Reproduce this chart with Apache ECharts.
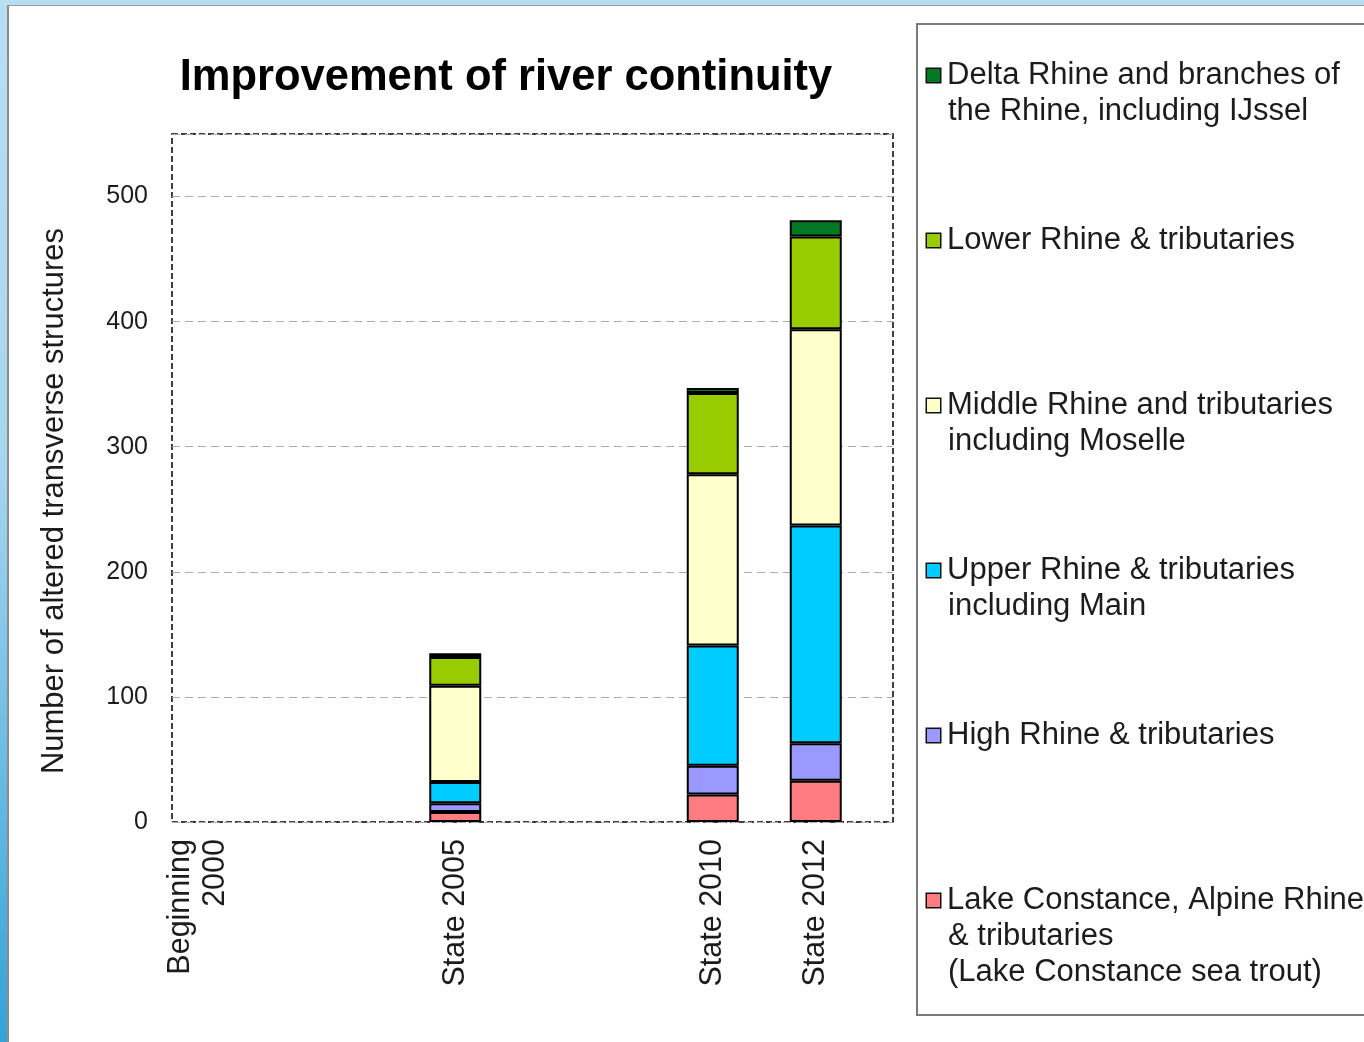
<!DOCTYPE html>
<html>
<head>
<meta charset="utf-8">
<script src="https://cdn.jsdelivr.net/npm/echarts@6/dist/echarts.min.js"></script>
<style>
  html, body { margin: 0; padding: 0; width: 1364px; height: 1042px; overflow: hidden;
    background: linear-gradient(to bottom, #b8def2 0%, #a6d5ef 45%, #5db6e0 80%, #34a3d6 100%); }
  #panel { position: absolute; left: 7px; top: 5px; right: 0; bottom: 0; background: #ffffff;
    border-left: 2px solid #8c8c8c; border-top: 1px solid #9a9a9a; }
  #chart { position: absolute; left: 0; top: 0; width: 1364px; height: 1042px; }
</style>
</head>
<body>
<div id="panel"></div>
<div id="chart"></div>
<script>
// ---- data ----
const axisSlots = ['2000','2001','2002','2003','2004','2005','2006','2007','2008','2009','2010','2011','2012','2013'];
const years = ['2000', '2005', '2010', '2012'];
const categories = ['Beginning\n2000', 'State 2005', 'State 2010', 'State 2012'];
const yTicks = [0, 100, 200, 300, 400, 500];

const seriesNames = ['Lake Constance', 'High Rhine', 'Upper Rhine', 'Middle Rhine', 'Lower Rhine', 'Delta Rhine'];
const lakeConstance = [0, 8, 22, 33];
const highRhine     = [0, 7, 23, 30];
const upperRhine    = [0, 17, 96, 174];
const middleRhine   = [0, 77, 137, 157];
const lowerRhine    = [0, 23, 65, 74];
const deltaRhine    = [0, 3, 4, 13];

const legendLines = {
  'Delta Rhine':   ['Delta Rhine and branches of', 'the Rhine, including IJssel'],
  'Lower Rhine':   ['Lower Rhine & tributaries'],
  'Middle Rhine':  ['Middle Rhine and tributaries', 'including Moselle'],
  'Upper Rhine':   ['Upper Rhine & tributaries', 'including Main'],
  'High Rhine':    ['High Rhine & tributaries'],
  'Lake Constance':['Lake Constance, Alpine Rhine', '& tributaries', '(Lake Constance sea trout)']
};

const colors = ['#FF7C80', '#9999FF', '#00CCFF', '#FFFFCC', '#99CC00', '#007A22'];
const values = [lakeConstance, highRhine, upperRhine, middleRhine, lowerRhine, deltaRhine];

const FONT = '"Liberation Sans", Arial, Helvetica, sans-serif';

const chart = echarts.init(document.getElementById('chart'), null, { renderer: 'canvas' });

const rich = {
  t:  { fontSize: 31, lineHeight: 36, fontFamily: FONT, color: '#1c1c1c', padding: [0, 0, 0, 7] },
  ind:{ width: 14, height: 14, lineHeight: 36 }
};
seriesNames.forEach((n, i) => {
  rich['c' + i] = { width: 13, height: 13, backgroundColor: colors[i], borderColor: '#111', borderWidth: 1.5, verticalAlign: 'middle' };
});

const series = seriesNames.map((name, i) => ({
  name: name,
  type: 'bar',
  stack: 'total',
  barWidth: 52,
  itemStyle: { color: colors[i], borderColor: '#000', borderWidth: 2 },
  emphasis: { disabled: true },
  data: years.map((y, j) => {
    const d = { value: [y, values[i][j]] };
    if (values[i][j] === 0) d.itemStyle = { borderWidth: 0 };
    return d;
  })
}));

const option = {
  backgroundColor: 'transparent',
  animation: false,
  title: {
    text: 'Improvement of river continuity',
    left: 506, top: 56, textAlign: 'center', padding: 0,
    textStyle: { fontSize: 43.5, fontWeight: 'bold', fontFamily: FONT, color: '#000' }
  },
  legend: {
    orient: 'vertical',
    left: 922, top: 60, padding: 0,
    itemGap: 62,
    itemWidth: 0, itemHeight: 14,
    icon: 'rect',
    selectedMode: false,
    itemStyle: { opacity: 0, borderWidth: 0 },
    data: seriesNames.slice().reverse(),
    textStyle: { rich: rich },
    formatter: function (name) {
      const i = seriesNames.indexOf(name);
      const lines = legendLines[name].slice();
      const out = ['{c' + i + '|}{t|' + lines[0] + '}'];
      for (let k = 1; k < lines.length; k++) out.push('{ind|}{t|' + lines[k] + '}');
      while (out.length < 3) out.push('{t|\u00a0}');
      return out.join('\n');
    }
  },
  graphic: [{
    type: 'rect', z: 0,
    shape: { x: 917, y: 24, width: 470, height: 991 },
    style: { fill: 'none', stroke: '#7a7a7a', lineWidth: 2 }
  }],
  grid: {
    left: 172, top: 134, width: 721, height: 688,
    show: true, borderColor: '#000', borderWidth: 1.5, borderType: [6, 3],
    backgroundColor: 'transparent'
  },
  xAxis: {
    type: 'category',
    data: axisSlots,
    boundaryGap: true,
    axisLine: { show: false },
    axisTick: { show: false },
    splitLine: { show: false },
    axisLabel: {
      interval: 0, rotate: 90, margin: 17,
      fontSize: 30.5, lineHeight: 35, fontFamily: FONT, color: '#1c1c1c',
      formatter: function (v) {
        const i = years.indexOf(v);
        return i >= 0 ? categories[i] : '';
      }
    }
  },
  yAxis: {
    type: 'value',
    min: 0, max: 550, interval: 100,
    name: 'Number of altered transverse structures',
    nameLocation: 'middle', nameRotate: 90, nameGap: 102,
    nameTextStyle: { fontSize: 31, fontFamily: FONT, color: '#1c1c1c', padding: [0, 46, 0, 0] },
    axisLine: { show: false },
    axisTick: { show: false },
    axisLabel: {
      margin: 24, fontSize: 25, fontFamily: FONT, color: '#1c1c1c', showMaxLabel: false,
      formatter: function (v) { return yTicks.indexOf(v) >= 0 ? String(v) : ''; }
    },
    splitLine: { show: true, lineStyle: { color: '#ababab', width: 1, type: [8, 5] } }
  },
  series: series
};
chart.setOption(option);
</script>
</body>
</html>
